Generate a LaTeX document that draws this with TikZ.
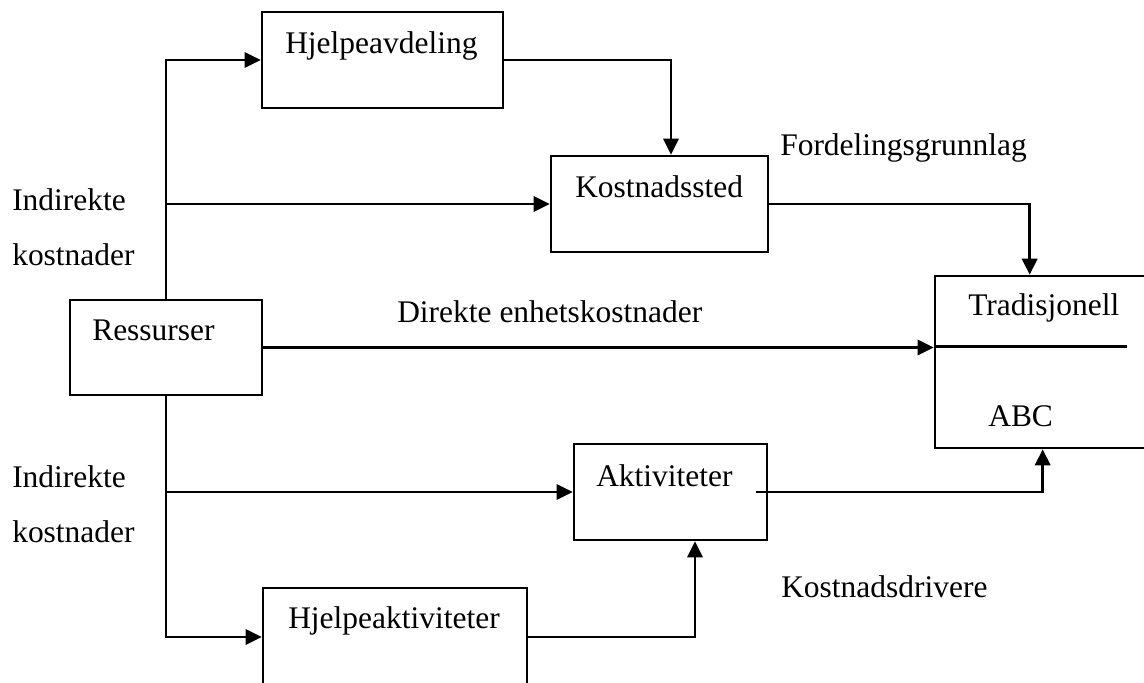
\documentclass[tikz,border=0pt]{standalone}
\usepackage{fontspec}
\setmainfont{Liberation Serif}
\usetikzlibrary{arrows.meta,calc,fit}
\begin{document}
\begin{tikzpicture}[x=0.75pt,y=-0.75pt,
  box/.style={draw,line width=2pt,inner sep=0pt,rectangle},
  lbl/.style={anchor=base west,inner sep=0pt,font=\fontsize{23.6}{28}\selectfont},
  arr/.style={line width=1.9pt,-{Triangle[length=12pt,width=11.5pt]}},
  ln/.style={line width=1.9pt}]
\useasboundingbox (0,0) rectangle (1144,682);
\clip (0,0) rectangle (1144,682);

% boxes
\node[box,fit={(262,12) (503,108)}] (hjav) {};
\node[box,fit={(551,156) (768,252)}] (koststed) {};
\node[box,fit={(70,300) (262,395)}] (ress) {};
\node[box,fit={(935,276) (1180,448)}] (trad) {};
\node[box,fit={(574,444) (767,540)}] (akt) {};
\node[box,fit={(263,588) (527,686)}] (hjakt) {};

% texts
\node[lbl] (t-hjav) at (285,53) {Hjelpeavdeling};
\node[lbl] (t-koststed) at (575,197) {Kostnadssted};
\node[lbl] (t-fordeling) at (780,155) {Fordelingsgrunnlag};
\node[lbl] (t-ind1) at (12,210) {Indirekte};
\node[lbl] (t-kost1) at (12,265) {kostnader};
\node[lbl] (t-ress) at (92,340) {Ressurser};
\node[lbl] (t-direkte) at (397,322) {Direkte enhetskostnader};
\node[lbl] (t-trad) at (968,315) {Tradisjonell};
\node[lbl] (t-abc) at (988,426) {ABC};
\node[lbl] (t-akt) at (596,486) {Aktiviteter};
\node[lbl] (t-ind2) at (12,487) {Indirekte};
\node[lbl] (t-kost2) at (12,542) {kostnader};
\node[lbl] (t-drivere) at (781,597) {Kostnadsdrivere};
\node[lbl] (t-hjakt) at (288,628) {Hjelpeaktiviteter};

% divider inside the cost object box
\draw[ln] ($(trad.north west)+(0,72)$) -- ++(193,0);

% indirect costs, upper branch
\draw[arr] (ress.north) |- (hjav.west);
\draw[arr] (ress.north |- koststed.west) -- (koststed.west);
\draw[arr] (hjav.east) -| ($(koststed.north)+(11.5,0)$);
\draw[arr] (koststed.east) -| ($(trad.north west)+(96,0)$);

% direct unit costs
\draw[arr] (ress.east) -- (ress.east -| trad.west);

% indirect costs, lower branch
\draw[arr] (ress.south) |- (hjakt.west);
\draw[arr] (ress.south |- akt.west) -- (akt.west);
\draw[arr] (hjakt.east) -| ($(akt.south)+(24.5,0)$);
\draw[arr] ($(akt.east)+(-12,0)$) -| ($(trad.south west)+(109,0)$);
\end{tikzpicture}
\end{document}
